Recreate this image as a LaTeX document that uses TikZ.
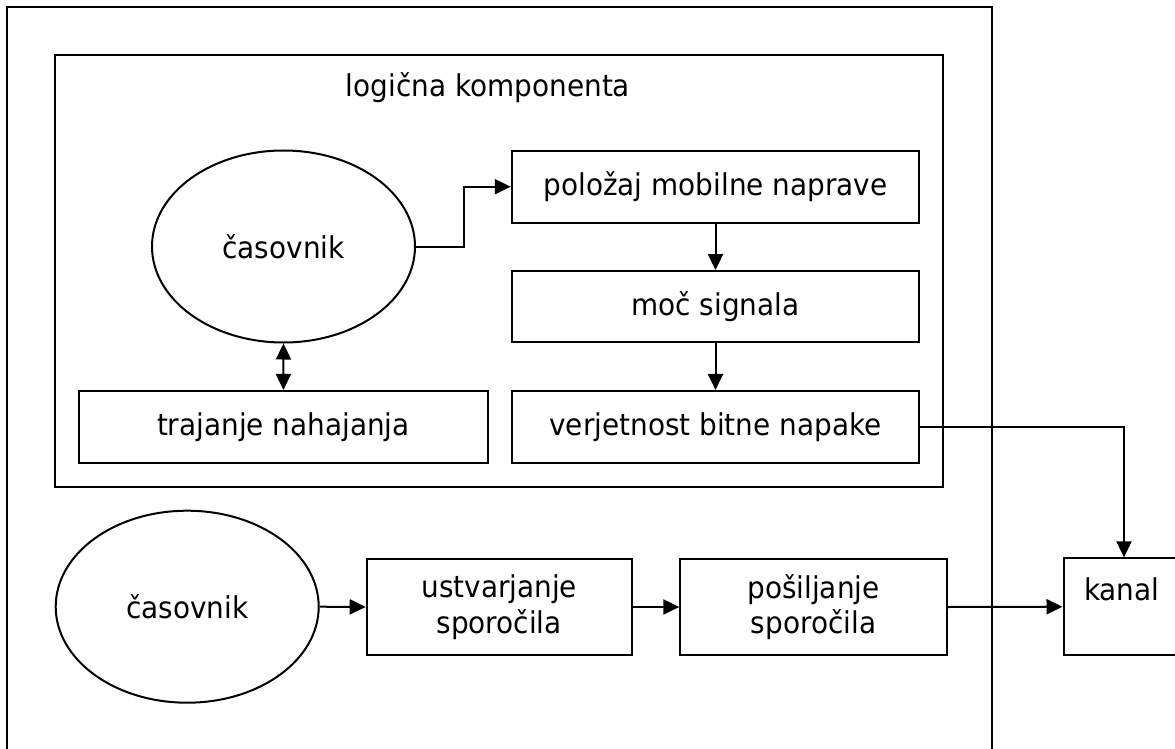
\documentclass[tikz,border=0pt]{standalone}
\usepackage{fontspec}
\setmainfont{DejaVu Sans}[FakeStretch=0.93]
\usetikzlibrary{arrows.meta,shapes.geometric}
\begin{document}
\begin{tikzpicture}[x=1pt,y=-1pt,
  line width=2pt,
  every node/.style={font=\fontsize{30}{35.7}\selectfont},
  box/.style={draw, rectangle, inner sep=0pt, align=center},
  oval/.style={draw, ellipse, inner sep=0pt, minimum width=263pt, minimum height=192pt},
  arr/.style={-{Triangle[length=16pt,width=15pt]}},
  darr/.style={{Triangle[length=16pt,width=15pt]}-{Triangle[length=16pt,width=15pt]}}]
\useasboundingbox (0,0) rectangle (1175,749);
\clip (0,0) rectangle (1175,749);
\fill[white] (0,0) rectangle (1175,749);
% containers
\node[box, minimum width=984.4pt, minimum height=753pt] (outer) at (499.5,383.2) {};
\node[box, minimum width=888pt, minimum height=432pt] (logic) at (499.3,270.7) {};
\node[anchor=base, inner sep=0pt] (logictitle) at (488,96.7) {logična komponenta};
% upper part
\node[oval] (clock1) at (283.5,246.5) {časovnik};
\node[box, minimum width=407.5pt, minimum height=72pt] (pol) at (715.5,186.7) {položaj mobilne naprave};
\node[box, minimum width=407.5pt, minimum height=71.3pt] (moc) at (715.5,306.7) {moč signala};
\node[box, minimum width=407.5pt, minimum height=71.7pt] (verj) at (715.5,426.8) {verjetnost bitne napake};
\node[box, minimum width=408.7pt, minimum height=71.7pt] (traj) at (283.4,426.8) {trajanje nahajanja};
% lower part
\node[oval] (clock2) at (187.2,606.7) {časovnik};
\node[box, minimum width=265pt, minimum height=96pt] (ust) at (499.2,607) {ustvarjanje\\sporočila};
\node[box, minimum width=266.3pt, minimum height=96pt] (pos) at (813.5,607) {pošiljanje\\sporočila};
\node[box, minimum width=121pt, minimum height=96.7pt] (kanal) at (1124,606.7) {};
\node[anchor=base, inner sep=0pt] (kanaltext) at (1121.7,600.7) {kanal};
% connectors
\draw[arr] (clock1.east) -- ++(48,0) |- (pol.west);
\draw[arr] (pol.south) -- (moc.north);
\draw[arr] (moc.south) -- (verj.north);
\draw[darr] (clock1.south) -- (traj.north);
\draw[arr] (verj.east) -| (kanal.north);
\draw[arr] (clock2.east) -- (ust.west);
\draw[arr] (ust.east) -- (pos.west);
\draw[arr] (pos.east) -- (kanal.west);
\end{tikzpicture}
\end{document}
